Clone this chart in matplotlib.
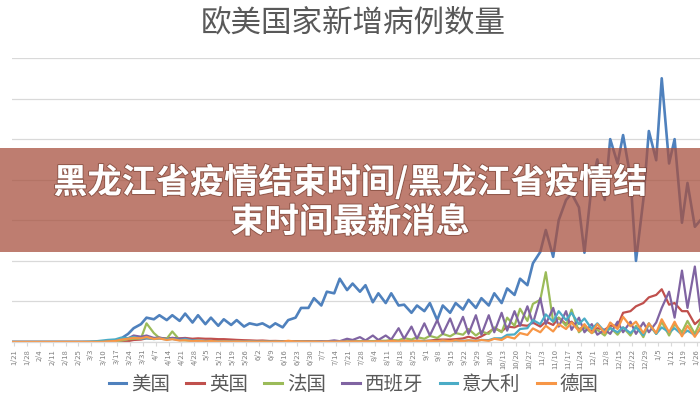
import matplotlib
matplotlib.use("Agg")
import matplotlib.pyplot as plt
import matplotlib.dates as mdates
import matplotlib.patheffects as pe
from matplotlib.patches import Rectangle
from matplotlib.ticker import MultipleLocator, FuncFormatter, NullFormatter
import pandas as pd
import numpy as np

plt.rcParams['font.family'] = ['Noto Sans CJK SC', 'DejaVu Sans']

# ---- data (values in thousands of new cases, sampled every Monday and Thursday) ----
mondays = pd.date_range('2020-01-20', periods=54, freq='7D')
dates = pd.DatetimeIndex(sorted(list(mondays) + list(mondays + pd.Timedelta(days=3))))

title = "欧美国家新增病例数量"
banner_lines = ["黑龙江省疫情结束时间/黑龙江省疫情结", "束时间最新消息"]
countries = ["美国", "英国", "法国", "西班牙", "意大利", "德国"]
colors = ["#4F81BD", "#C0504D", "#9BBB59", "#8064A2", "#4BACC6", "#F79646"]

us = [0, 0, 0, 0, 0, 0, 0, 0, 0, 0, 0, 0, 0, 0.1, 0.2, 0.5, 1.5, 4, 10, 17,
      22, 30, 28, 33, 27, 33, 26, 35, 24, 33, 22, 30, 20, 28, 21, 27, 19, 23, 21, 23,
      18, 23, 18, 27, 30, 42, 42, 54, 45, 62, 60, 78, 64, 72, 62, 70, 49, 60, 48, 60,
      45, 46, 36, 45, 38, 48, 27, 45, 36, 48, 40, 52, 42, 54, 45, 60, 48, 66, 58, 78,
      70, 97, 111, 138, 105, 150, 175, 183, 166, 110, 195, 225, 175, 250, 220, 255,
      203, 100, 175, 260, 224, 325, 220, 250, 147, 196, 142, 150]
uk = [0, 0, 0, 0, 0, 0, 0, 0, 0, 0, 0, 0, 0, 0, 0.05, 0.1, 0.2, 0.6, 1, 2.5,
      3, 4.5, 4, 5, 4.5, 5, 4.5, 5, 4, 4.5, 4, 4, 3.5, 3.5, 3, 2.6, 2.2, 2, 1.6, 1.8,
      1.2, 1.3, 1, 1.1, 0.9, 0.9, 0.8, 0.7, 0.6, 0.7, 0.6, 0.7, 0.6, 0.8, 0.7, 0.8,
      0.9, 0.9, 1, 1.1, 1, 1.1, 1.2, 1.3, 1.4, 1.7, 2.9, 3, 3, 3.5, 4.4, 6.5, 4, 7,
      12, 17, 13, 19, 18, 21, 20, 24, 19, 25, 21, 30, 22, 25, 16, 18, 13, 17, 15, 20,
      20, 36, 38, 44, 48, 55, 58, 65, 46, 48, 38, 38, 22, 28]
france = [0, 0, 0, 0, 0, 0, 0, 0, 0, 0, 0, 0, 0, 0.1, 0.3, 0.5, 1, 1.6, 3.5, 3.9,
          4.4, 23, 11, 5, 4, 13, 2.5, 2, 1.5, 1.5, 0.8, 1, 0.5, 0.6, 0.4, 0.5, 0.3, 0.4,
          0.3, 0.5, 0.4, 0.5, 0.4, 0.5, 0.4, 0.5, 0.5, 0.6, 0.5, 0.7, 0.6, 0.7, 0.7, 1,
          0.8, 1.4, 1, 1.6, 1.5, 2.5, 2, 4.7, 3, 6, 4, 7.5, 5, 10, 7, 11, 9, 16, 8, 13,
          10, 18, 12, 30, 20, 41, 26, 47, 52, 86, 25, 30, 20, 40, 12, 18, 11, 15, 8, 18,
          9, 18, 8, 20, 6, 22, 10, 25, 8, 22, 12, 26, 10, 25]
spain = [0, 0, 0, 0, 0, 0, 0, 0, 0, 0, 0, 0, 0, 0, 0.5, 1, 2, 3.5, 4.5, 8,
         6.5, 8, 5, 5.5, 3.5, 5, 4, 4.5, 2, 1.5, 1, 1, 0.6, 0.5, 0.5, 0.5, 0.4, 0.4,
         0.3, 0.4, 0.3, 0.4, 0.3, 0.4, 0.3, 0.4, 0.5, 0.5, 1, 0.8, 2, 1, 4, 2.5, 6, 2,
         8, 2.5, 8, 3, 17, 4, 19, 4, 23, 8, 27, 10, 29, 11, 31, 10, 33, 9, 33, 12,
         36, 14, 38, 20, 44, 23, 54, 22, 42, 19, 38, 15, 30, 12, 22, 9, 15, 10, 25, 12,
         25, 10, 24, 12, 24, 42, 62, 30, 88, 42, 93, 38]
italy = [0, 0, 0, 0, 0, 0, 0, 0, 0, 0, 0, 0, 0.3, 0.8, 1.8, 2.6, 3.2, 5.3, 4.8, 6.2,
         4, 4.7, 3.6, 4.2, 3.2, 3.8, 2.3, 3.4, 1.7, 1.9, 1.2, 1.4, 0.7, 1, 0.5, 0.6,
         0.3, 0.6, 0.2, 0.3, 0.3, 0.4, 0.3, 0.3, 0.2, 0.3, 0.1, 0.2, 0.2, 0.2, 0.2, 0.2,
         0.1, 0.3, 0.2, 0.4, 0.2, 0.4, 0.3, 0.5, 0.3, 0.8, 1, 1.4, 1, 1.4, 1.1, 1.6,
         1, 1.6, 1.4, 1.9, 1.5, 2.5, 2.3, 4.5, 4.6, 8.8, 9.3, 16, 17, 27, 22, 34, 25, 38,
         27, 36, 22, 29, 16, 23, 13, 17, 12, 18, 11, 18, 8.5, 23, 10, 18, 12, 17, 9, 14,
         8.5, 15]
germany = [0, 0, 0, 0, 0, 0, 0, 0, 0, 0, 0, 0, 0, 0.1, 0.2, 0.8, 1.2, 2.8, 4, 5,
           4.5, 6.2, 3.7, 4.5, 2.5, 3.5, 1.8, 2.3, 1, 1.5, 0.7, 1.2, 0.6, 0.8, 0.5, 0.7,
           0.4, 0.5, 0.3, 0.5, 0.3, 0.5, 0.4, 1.5, 0.5, 0.6, 0.4, 0.5, 0.3, 0.5, 0.3, 0.6,
           0.4, 0.7, 0.5, 0.8, 0.5, 1, 0.6, 1.4, 0.6, 1.7, 0.7, 1.6, 0.6, 1.3, 0.8, 1.9,
           0.9, 2.2, 1, 2.1, 1.2, 2.5, 1.4, 4, 2.5, 6.6, 4.3, 11, 8.7, 16.7, 12, 20,
           13, 22, 16, 24, 13.6, 22, 11, 22, 11, 24, 16, 31, 19.5, 25, 11, 23, 11, 28,
           12, 25, 7, 20, 6.4, 17.5]

series = [us, uk, france, spain, italy, germany]

# ---- figure ----
fig = plt.figure(figsize=(7, 4), dpi=100)
fig.patch.set_facecolor('white')
ax = fig.add_axes([12 / 700, 58 / 400, 1 - 12 / 700, 284 / 400])

for name, vals, col in zip(countries, series, colors):
    n = min(len(vals), len(dates))
    y = np.array(vals[:n], dtype=float) * 1000
    lw = 1.9 if name == "美国" else 1.6
    ax.plot(dates[:n], y, color=col, lw=lw, label=name, solid_joinstyle='round')

t0 = pd.Timestamp('2020-01-21')
ax.set_xlim(t0 - pd.Timedelta(days=1.1), t0 + pd.Timedelta(days=372.8))
ax.set_ylim(0, 350000)
ax.yaxis.set_major_locator(MultipleLocator(50000))
ax.yaxis.set_major_formatter(NullFormatter())
ax.tick_params(axis='y', length=0)
ax.grid(axis='y', color='#d9d9d9', lw=0.9)
ax.set_axisbelow(True)
for s in ['left', 'right', 'top']:
    ax.spines[s].set_visible(False)
ax.spines['bottom'].set_color('#d9d9d9')
ax.spines['bottom'].set_linewidth(0.9)

ax.xaxis.set_major_locator(mdates.WeekdayLocator(byweekday=mdates.TU))
def fmt(x, pos):
    d = mdates.num2date(x)
    return f"{d.month}/{d.day}"
ax.xaxis.set_major_formatter(FuncFormatter(fmt))
ax.tick_params(axis='x', length=3, color='#d9d9d9', labelsize=5.5,
               labelcolor='#7f7f7f', rotation=90, pad=2)

fig.text(0.505, 1 - 23 / 400, title, ha='center', va='center', fontsize=22,
         color='#595959')

leg = fig.legend(loc='center', bbox_to_anchor=(0.505, 1 - 384 / 400), ncol=6,
                 frameon=False, fontsize=14, handlelength=0.9, handletextpad=0.25,
                 columnspacing=0.85, labelcolor='#595959')
for h in leg.legend_handles:
    h.set_linewidth(2.2)

# ---- overlay banner ----
fig.patches.append(Rectangle((0, 1 - 252 / 400), 1, 104 / 400, transform=fig.transFigure,
                             facecolor='#A85240', alpha=0.75, edgecolor='none', zorder=5))
shadow = [pe.withStroke(linewidth=1.5, foreground=(0.4, 0.2, 0.15, 0.5))]
fig.text(0.5, 1 - 182 / 400, banner_lines[0], ha='center', va='center', fontsize=24.6,
         fontweight='bold', color='white', zorder=6, path_effects=shadow)
fig.text(0.5, 1 - 222 / 400, banner_lines[1], ha='center', va='center', fontsize=24.6,
         fontweight='bold', color='white', zorder=6, path_effects=shadow)

fig.savefig('out.png', dpi=100, facecolor='white')
